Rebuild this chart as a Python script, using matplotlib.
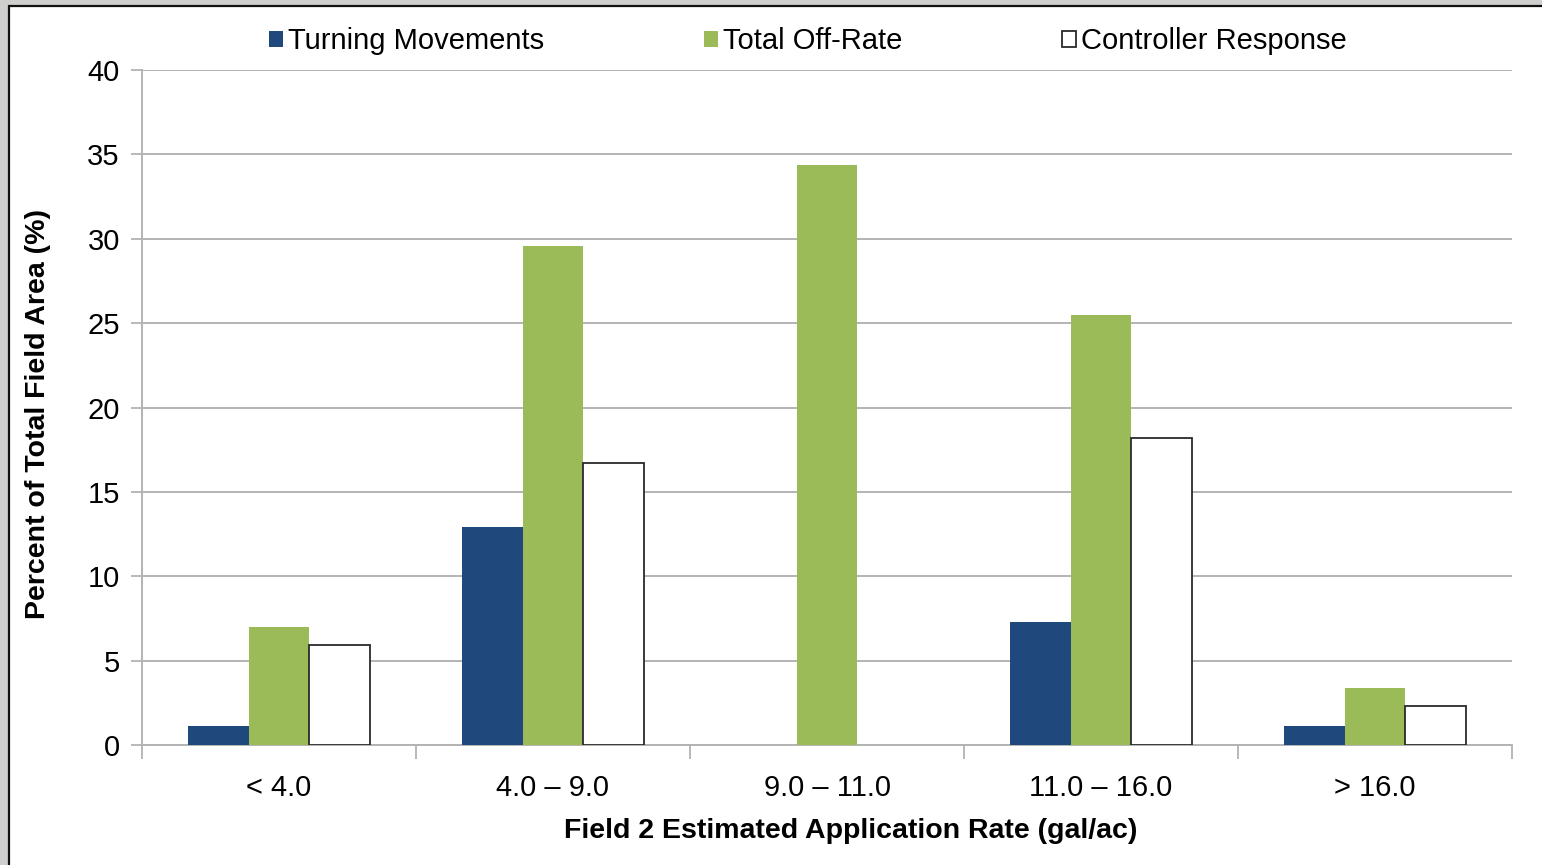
import numpy as np
import matplotlib.pyplot as plt
from matplotlib.patches import Rectangle

plt.rcParams['font.family'] = ['Liberation Sans', 'DejaVu Sans']

categories = ['< 4.0', '4.0 – 9.0', '9.0 – 11.0', '11.0 – 16.0', '> 16.0']
turning = [1.1, 12.9, 0.0, 7.3, 1.1]
off_rate = [7.0, 29.6, 34.4, 25.5, 3.4]
controller = [5.9, 16.7, 0.0, 18.2, 2.3]

BLUE = '#1f497d'
GREEN = '#9bbb59'
GRID = '#b3b3b3'

fig = plt.figure(figsize=(15.42, 8.65), dpi=100, facecolor='#cfcfcd')

# white slide panel with a dark frame, kept behind the axes
fig.patches.append(Rectangle((9/1542, -0.05), 1.1, 1 - 6/865 + 0.05,
                             transform=fig.transFigure, facecolor='white',
                             edgecolor='#111111', linewidth=1.6, zorder=-5))

ax = fig.add_axes([142/1542, 120/865, 1370/1542, 675/865])
ax.set_facecolor('none')

x = np.arange(len(categories))
w = 0.222
ax.bar(x - w, turning, w, color=BLUE, label='Turning Movements', zorder=3)
ax.bar(x, off_rate, w, color=GREEN, label='Total Off-Rate', zorder=3)
ax.bar(x + w, controller, w, color='white', edgecolor='#2a2a2a', linewidth=1.3,
       label='Controller Response', zorder=3)
# empty white bars leave no outline
for b, v in zip(ax.patches[-len(categories):], controller):
    if v == 0:
        b.set_visible(False)

ax.set_xlim(-0.5, len(categories) - 0.5)
ax.set_ylim(0, 40)
ax.set_yticks(np.arange(0, 41, 5))
ax.yaxis.grid(True, color=GRID, linewidth=1.4, zorder=0)

ax.set_xticks(np.arange(-0.5, len(categories), 1))
ax.set_xticklabels([])
ax.set_xticks(x, minor=True)
ax.set_xticklabels(categories, minor=True)
ax.tick_params(axis='x', which='major', length=10, width=1.3, color=GRID)
ax.tick_params(axis='x', which='minor', length=0, pad=21, labelsize=21)
ax.tick_params(axis='y', length=8, width=1.3, color=GRID, pad=8, labelsize=21)

for s in ['top', 'right']:
    ax.spines[s].set_visible(False)
for s in ['left', 'bottom']:
    ax.spines[s].set_color(GRID)
    ax.spines[s].set_linewidth(1.4)

fig.text(851/1542, 1 - 831/865, 'Field 2 Estimated Application Rate (gal/ac)',
         ha='center', va='center', fontsize=20.5, fontweight='bold')
fig.text(38/1542, 1 - 414/865, 'Percent of Total Field Area (%)', rotation=90,
         ha='center', va='center', fontsize=20.5, fontweight='bold')

ax.legend(loc='center', bbox_to_anchor=(808/1542, 1 - 41/865),
          bbox_transform=fig.transFigure, ncol=3, frameon=False, fontsize=21,
          handlelength=0.48, handleheight=0.48, handletextpad=0.15,
          columnspacing=5.5)

fig.savefig('out.png', dpi=100)
